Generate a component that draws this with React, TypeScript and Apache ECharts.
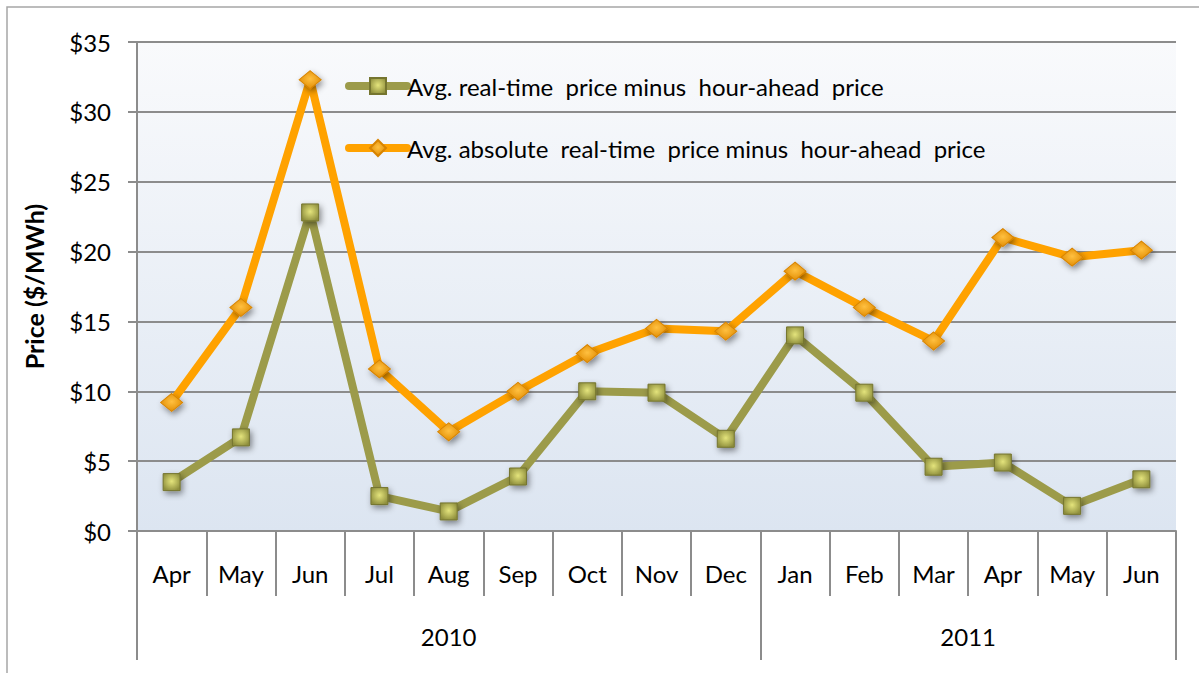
import React, { useEffect, useRef } from "react";
import * as echarts from "echarts";

const months = ["Apr", "May", "Jun", "Jul", "Aug", "Sep", "Oct", "Nov", "Dec", "Jan", "Feb", "Mar", "Apr", "May", "Jun"];
const years = ["2010", "2011"];
const yearBounds = [0, 9, 15];
const yearCenters = [4.5, 12];
const realMinusHourAhead = [3.5, 6.7, 22.8, 2.5, 1.4, 3.9, 10.0, 9.9, 6.6, 14.0, 9.9, 4.6, 4.9, 1.8, 3.7];
const absRealMinusHourAhead = [9.2, 16.0, 32.3, 11.6, 7.1, 10.0, 12.7, 14.5, 14.3, 18.6, 16.0, 13.6, 21.0, 19.6, 20.1];
const seriesNames = [
  "Avg. real-time  price minus  hour-ahead  price",
  "Avg. absolute  real-time  price minus  hour-ahead  price",
];

const FONT = "Lato, 'Open Sans', sans-serif";
const FS = 24;

export default function App() {
  const ref = useRef<HTMLDivElement>(null);
  useEffect(() => {
    if (!ref.current) return;
    const chart = echarts.init(ref.current, undefined, { renderer: "svg" });
    const gray = "#8c8c8c";
    const greenFill = new echarts.graphic.RadialGradient(0.5, 0.45, 0.6, [
      { offset: 0, color: "#e4e47c" },
      { offset: 1, color: "#8e8e3c" },
    ]);
    const orangeFill = new echarts.graphic.RadialGradient(0.5, 0.45, 0.6, [
      { offset: 0, color: "#ffc040" },
      { offset: 1, color: "#e08a00" },
    ]);
    const monthBounds = months.map((_, i) => i).concat([months.length]);
    chart.setOption({
      animation: false,
      textStyle: { fontFamily: FONT },
      graphic: [
        {
          type: "rect",
          shape: { x: 7, y: 7, width: 1400, height: 900 },
          style: { fill: "none", stroke: "#a6a6a6", lineWidth: 1.5 },
          silent: true,
          z: -10,
        },
      ],
      grid: {
        left: 137,
        top: 42,
        right: 23,
        bottom: 142,
        show: true,
        borderWidth: 0,
        backgroundColor: new echarts.graphic.LinearGradient(0, 0, 0, 1, [
          { offset: 0, color: "#f9fafc" },
          { offset: 1, color: "#dce5f1" },
        ]),
      },
      legend: {
        orient: "vertical",
        left: 340,
        top: 69,
        itemWidth: 58,
        itemHeight: 20,
        itemGap: 38,
        lineStyle: { width: 8, cap: "round" },
        textStyle: { fontSize: FS, color: "#000", fontFamily: FONT, padding: [0, 0, 0, -5] },
        data: seriesNames,
      },
      xAxis: [
        {
          type: "category",
          data: months,
          boundaryGap: true,
          axisLine: { show: true, lineStyle: { color: gray, width: 2 } },
          axisTick: { show: false },
          axisLabel: { interval: 0, margin: 30, fontSize: FS, color: "#000", fontFamily: FONT },
          splitLine: { show: false },
        },
        {
          type: "value",
          min: 0,
          max: 15,
          position: "bottom",
          axisLine: { show: false },
          axisTick: { show: true, customValues: monthBounds, length: 65, lineStyle: { color: gray, width: 2 } },
          axisLabel: { show: false },
          splitLine: { show: false },
        },
        {
          type: "value",
          min: 0,
          max: 15,
          position: "bottom",
          axisLine: { show: false },
          axisTick: { show: true, customValues: yearBounds, length: 129, lineStyle: { color: gray, width: 2 } },
          axisLabel: {
            customValues: yearCenters,
            margin: 93,
            fontSize: FS,
            color: "#000",
            fontFamily: FONT,
            formatter: (v: number) => years[yearCenters.indexOf(v)] ?? "",
          },
          splitLine: { show: false },
        },
      ],
      yAxis: {
        type: "value",
        min: 0,
        max: 35,
        interval: 5,
        name: "Price ($/MWh)",
        nameLocation: "middle",
        nameGap: 91,
        nameTextStyle: { fontSize: 25, fontWeight: "bold", color: "#000", fontFamily: FONT },
        axisLine: { show: true, lineStyle: { color: gray, width: 2 } },
        axisTick: { show: true, length: 9, lineStyle: { color: gray, width: 2 } },
        axisLabel: { formatter: "${value}", fontSize: FS, color: "#000", margin: 26, fontFamily: FONT },
        splitLine: { lineStyle: { color: gray, width: 2 } },
      },
      series: [
        {
          name: seriesNames[0],
          type: "line",
          data: realMinusHourAhead,
          symbol: "rect",
          symbolSize: 17,
          lineStyle: { color: "#9c9b4a", width: 8, cap: "round", join: "round" },
          itemStyle: {
            color: greenFill,
            borderColor: "#75752f",
            borderWidth: 1,
            shadowBlur: 6,
            shadowColor: "rgba(0,0,0,0.45)",
            shadowOffsetX: 2,
            shadowOffsetY: 3,
          },
          z: 3,
        },
        {
          name: seriesNames[1],
          type: "line",
          data: absRealMinusHourAhead,
          symbol: "diamond",
          symbolSize: [22, 18],
          lineStyle: { color: "#ffa200", width: 8, cap: "round", join: "round" },
          itemStyle: {
            color: orangeFill,
            borderColor: "#d88400",
            borderWidth: 1,
            shadowBlur: 6,
            shadowColor: "rgba(0,0,0,0.45)",
            shadowOffsetX: 2,
            shadowOffsetY: 3,
          },
          z: 2,
        },
      ],
    });
    return () => chart.dispose();
  }, []);
  return (
    <div
      ref={ref}
      style={{ position: "fixed", left: 0, top: 0, width: 1199, height: 673, background: "#fff" }}
    />
  );
}
